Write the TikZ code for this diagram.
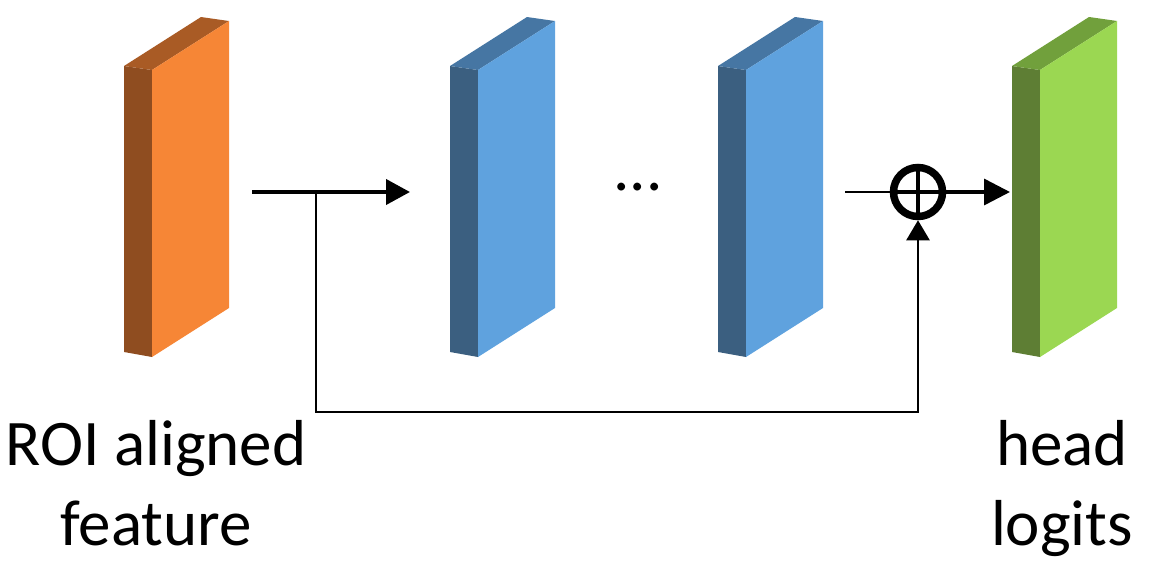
\documentclass[tikz,border=0pt]{standalone}
\usepackage{fontspec}
\setmainfont{Carlito}
\usetikzlibrary{arrows.meta}

% colour sets for the three slab kinds: side, top, front
\definecolor{orSide}{HTML}{8F4D20}
\definecolor{orTop}{HTML}{A95B25}
\definecolor{orFront}{HTML}{F68636}
\definecolor{blSide}{HTML}{3B5F80}
\definecolor{blTop}{HTML}{4676A3}
\definecolor{blFront}{HTML}{5FA2DE}
\definecolor{grSide}{HTML}{5E7E34}
\definecolor{grTop}{HTML}{71A03C}
\definecolor{grFront}{HTML}{9BD752}

% a slanted feature slab; #1 = left x, #2 = colour prefix, #3 = name
\newcommand{\featslab}[3]{%
  \fill[#2Side] (#1,66) -- (#1+28,70) -- (#1+28,357) -- (#1,352) -- cycle;
  \fill[#2Top] (#1,66) -- (#1+28,70) -- (#1+105,21) -- (#1+77,17) -- cycle;
  \fill[#2Front] (#1+28,70) -- (#1+105,21) -- (#1+105,308) -- (#1+28,357) -- cycle;
  \coordinate (#3) at (#1+52,190);
}

\tikzset{
  lbl/.style={font=\fontsize{65}{80}\selectfont, inner sep=0pt, align=center, anchor=base},
  thickarrow/.style={line width=4pt, -{Triangle[length=24pt,width=25pt]}},
  thinline/.style={line width=2.5pt},
  uparrow/.style={line width=2.5pt, -{Triangle[length=20pt,width=23pt]}},
  sumnode/.style={circle, draw, line width=7.5pt, minimum size=49pt, inner sep=0pt},
}

\begin{document}
\begin{tikzpicture}[x=1pt,y=-1pt]
\useasboundingbox (0,0) rectangle (1157,573);

\featslab{124}{or}{roi}
\featslab{450}{bl}{convA}
\featslab{718}{bl}{convB}
\featslab{1012}{gr}{head}

\node[lbl] (dots) at (638,190) {...};

% sum junction
\node[sumnode] (sum) at (918,192) {};
\draw[line width=4pt] (sum.center) ++(-24,0) -- ++(48,0);
\draw[line width=4pt] (sum.center) ++(0,-24) -- ++(0,48);

% connectors
\coordinate (outA) at (252,192);
\coordinate (fork) at (316,192);
\coordinate (inA) at (410,192);
\coordinate (outB) at (845,192);
\coordinate (inH) at (1010,192);
\coordinate (low) at (316,412);

\draw[thickarrow] (outA) -- (inA);
\draw[thinline] (outB) -- (sum.west);
\draw[thickarrow, line width=3.5pt, -{Triangle[length=26pt,width=26pt]}] (sum.east) -- (inH);
\draw[uparrow] (fork) -- (low) -| (sum.south);

% labels (anchor base sits on the last line)
\node[lbl] (roiText) at (156,545) {ROI aligned\\feature};
\node[lbl] (headText) at (1062,545) {head\\logits};
\end{tikzpicture}
\end{document}
